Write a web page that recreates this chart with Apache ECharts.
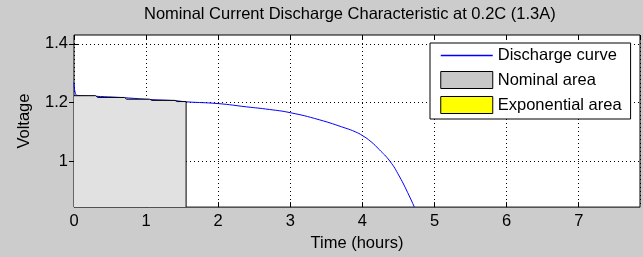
<!DOCTYPE html>
<html>
<head>
<meta charset="utf-8">
<script src="https://cdn.jsdelivr.net/npm/echarts@6/dist/echarts.min.js"></script>
<style>
  html, body { margin: 0; padding: 0; background: #cccccc; }
  #chart { width: 643px; height: 257px; }
</style>
</head>
<body>
<div id="chart"></div>
<script>
// discharge curve (hours, volts)
const timeHours = [0, 0.02, 0.05, 0.3, 0.7, 1.05, 1.4, 1.56, 2.0, 2.39, 2.71, 3.0, 3.4, 3.77, 3.9, 4.0, 4.12, 4.23, 4.38, 4.51, 4.65, 4.72];
const voltage   = [1.268, 1.23, 1.224, 1.221, 1.216, 1.21, 1.206, 1.202, 1.196, 1.185, 1.176, 1.165, 1.141, 1.112, 1.1, 1.087, 1.066, 1.04, 1.0, 0.949, 0.881, 0.843];
// nominal area outline
const nominalT = [0, 0.3, 0.33, 0.7, 0.73, 1.05, 1.08, 1.4, 1.43, 1.555, 1.555];
const nominalV = [1.223, 1.223, 1.217, 1.217, 1.211, 1.211, 1.207, 1.207, 1.203, 1.203, 0.843];
const yTicks = [1, 1.2, 1.4];
const seriesNames = ['Discharge curve', 'Nominal area', 'Exponential area'];

const font = "'Liberation Sans', Arial, sans-serif";
const chart = echarts.init(document.getElementById('chart'));

const dotted = { color: '#000', width: 1, type: [1, 3] };

chart.setOption({
  backgroundColor: '#cccccc',
  animation: false,
  textStyle: { fontFamily: font },
  title: {
    text: 'Nominal Current Discharge Characteristic at 0.2C (1.3A)',
    left: 144, top: 6, padding: 0,
    textStyle: { fontFamily: font, fontSize: 16.5, fontWeight: 'normal', color: '#000' }
  },
  grid: {
    left: 74, top: 35, right: 3, bottom: 49,
    show: true, backgroundColor: '#fff', borderColor: '#000', borderWidth: 1
  },
  legend: {
    orient: 'vertical',
    left: 430, top: 43,
    padding: [4, 9, 5, 10],
    itemWidth: 52, itemHeight: 17, itemGap: 7,
    backgroundColor: '#fff', borderColor: '#000', borderWidth: 1,
    textStyle: { fontFamily: font, fontSize: 16.5, color: '#000' },
    data: [
      { name: seriesNames[0], itemStyle: { opacity: 0 }, lineStyle: { color: '#0000ff', width: 1.5 } },
      { name: seriesNames[1], icon: 'rect', itemStyle: { color: '#c8c8c8', borderColor: '#000', borderWidth: 1 } },
      { name: seriesNames[2], icon: 'rect', itemStyle: { color: '#ffff00', borderColor: '#000', borderWidth: 1 } }
    ]
  },
  xAxis: [{
    type: 'value', min: 0, max: 7.85, interval: 1,
    name: 'Time (hours)', nameLocation: 'middle', nameGap: 26,
    nameTextStyle: { fontFamily: font, fontSize: 16.5, color: '#000' },
    axisLine: { show: false },
    axisTick: { inside: true, length: 5, lineStyle: { color: '#000' } },
    axisLabel: { margin: 6, fontSize: 16.5, color: '#000', showMaxLabel: false },
    splitLine: { show: true, lineStyle: dotted }
  }, {
    type: 'value', min: 0, max: 7.85, interval: 1, position: 'top',
    axisLine: { show: false },
    axisTick: { inside: true, length: 5, lineStyle: { color: '#000' } },
    axisLabel: { show: false },
    splitLine: { show: false }
  }],
  yAxis: [{
    type: 'value', min: 0.843, max: 1.43,
    name: 'Voltage', nameLocation: 'middle', nameGap: 41, nameRotate: 90,
    nameTextStyle: { fontFamily: font, fontSize: 16.5, color: '#000' },
    axisLine: { show: false },
    axisTick: { inside: true, length: 5, lineStyle: { color: '#000' }, customValues: yTicks },
    axisLabel: { margin: 6, fontSize: 16.5, color: '#000', customValues: yTicks },
    splitLine: { show: true, lineStyle: dotted, customValues: yTicks }
  }, {
    type: 'value', min: 0.843, max: 1.43, position: 'right',
    axisLine: { show: false },
    axisTick: { inside: true, length: 5, lineStyle: { color: '#000' }, customValues: yTicks },
    axisLabel: { show: false },
    splitLine: { show: false }
  }],
  series: [{
    name: seriesNames[0],
    type: 'line',
    symbol: 'none',
    smooth: 0.5,
    color: '#0000ff',
    lineStyle: { color: '#0000ff', width: 1 },
    data: timeHours.map((t, i) => [t, voltage[i]]),
    z: 2
  }, {
    name: seriesNames[1],
    type: 'line',
    symbol: 'none',
    color: '#c8c8c8',
    lineStyle: { color: '#000', width: 1 },
    areaStyle: { color: '#e1e1e1', opacity: 1, origin: 'start' },
    data: nominalT.map((t, i) => [t, nominalV[i]]),
    z: 3
  }, {
    name: seriesNames[2],
    type: 'bar',
    color: '#ffff00',
    data: []
  }]
});
</script>
</body>
</html>
